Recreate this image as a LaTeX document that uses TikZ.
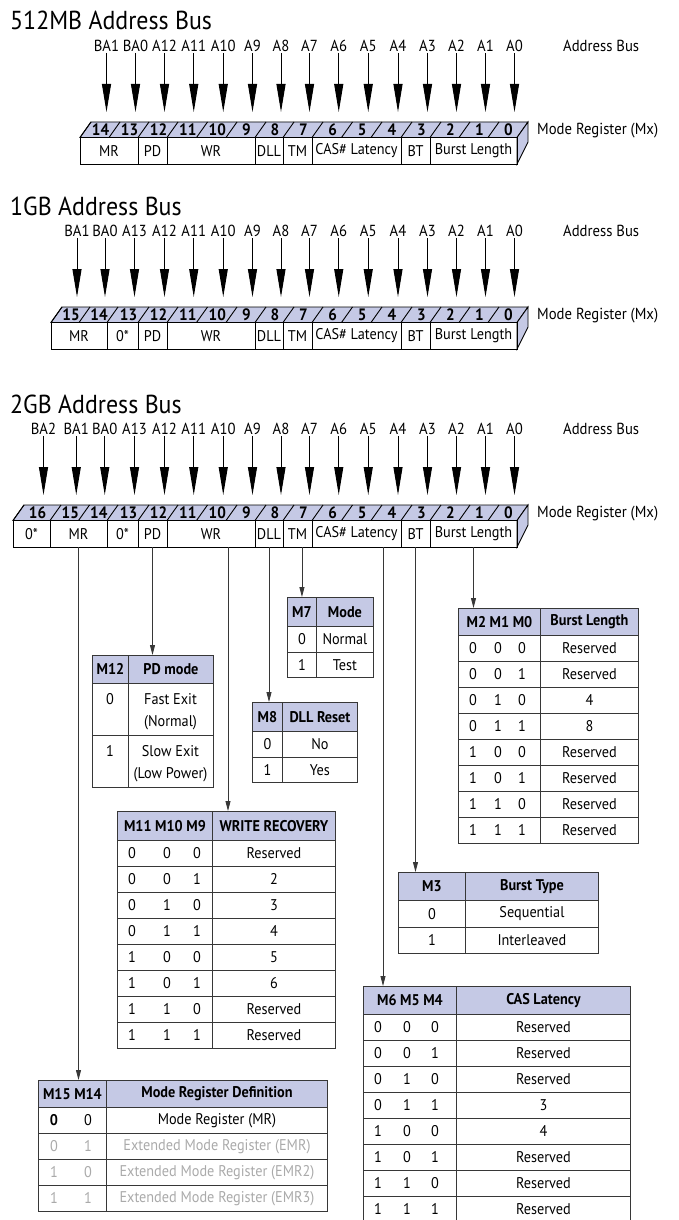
\documentclass[tikz,border=0pt]{standalone}
\usepackage{fontspec}
\setmainfont{PT Sans}[FakeStretch=0.92]
\usetikzlibrary{arrows.meta}
\definecolor{lav}{RGB}{197,201,229}
\definecolor{tl}{RGB}{55,55,55}
\definecolor{gtx}{RGB}{170,170,170}
\newcommand{\fs}[1]{\fontsize{#1}{#1}\selectfont}
\tikzset{
 titletext/.style={anchor=base west, font=\fs{26}, inner sep=0},
 buslbl/.style={font=\fs{16}, inner sep=1pt},
 sidelbl/.style={anchor=west, font=\fs{16}, inner sep=0},
 bitnum/.style={font=\fs{16.5}\bfseries, inner sep=0},
 field/.style={draw=black, line width=0.9pt, minimum height=26.5pt, inner sep=0, font=\fs{15.5}},
 busarrow/.style={line width=1pt, -{Triangle[length=28pt,width=9pt]}},
 conn/.style={line width=0.8pt, draw=tl, -{Triangle[length=10pt,width=5pt]}},
 cellbase/.style={draw=tl, line width=0.9pt, inner sep=0, font=\fs{15.5}},
 hdr/.style={fill=lav, font=\fs{15.5}\bfseries},
 txt/.style={font=\fs{15.5}, inner sep=0},
 gtxt/.style={font=\fs{15.5}, inner sep=0, text=gtx},
}
% band + right face + side labels
\newcommand{\band}[3]{%
 \draw[fill=lav, line width=0.9pt] (#3,#2+137.5) -- (#3+11,#2+122) -- (528,#2+122) -- (517,#2+137.5) -- cycle;
 \draw[fill=lav, line width=0.9pt] (517,#2+137.5) -- (528,#2+122) -- (528,#2+142) -- (517,#2+164) -- cycle;
 \node[sidelbl] (#1-mx) at (537,#2+131) {Mode Register (Mx)};
 \node[sidelbl] (#1-ab) at (563,#2+46) {Address Bus};
}
\newcommand{\bits}[3]{%
 \foreach \xl/\xr/\bn/\bl in {#3}{
  \pgfmathsetmacro\cx{(\xl+\xr)/2}
  \draw[line width=0.9pt] (\xl,#2+137.5) -- (\xl+11,#2+122);
  \node[bitnum] (#1-n\bn) at (\cx+6,#2+130) {\bn};
  \node[buslbl] (#1-a\bn) at (\cx+12,#2+46) {\bl};
  \coordinate (#1-t\bn) at (\cx+12,#2+112);
  \draw[busarrow] (#1-a\bn) -- (#1-t\bn);
 }}
\newcommand{\fld}[5]{%
 \pgfmathsetmacro\fw{#3-#2}\pgfmathsetmacro\fc{(#2+#3)/2}%
 \node[field, minimum width=\fw pt] (#1) at (\fc,#4+150.75) {#5};}
\newcommand{\commonfields}[2]{%
 \fld{#1-pd}{138}{167}{#2}{PD}
 \fld{#1-wr}{167}{255}{#2}{WR}
 \fld{#1-dll}{255}{283}{#2}{DLL}
 \fld{#1-tm}{283}{312}{#2}{TM}
 \fld{#1-cas}{312}{401}{#2}{CAS\# Latency}
 \fld{#1-bt}{401}{430}{#2}{BT}
 \fld{#1-bl}{430}{517}{#2}{Burst Length}}
\newcommand{\tcell}[7]{%
 \pgfmathsetmacro\cw{#4-#2}\pgfmathsetmacro\ch{#5-#3}%
 \node[cellbase,#6,minimum width=\cw pt,minimum height=\ch pt,anchor=north west] (#1) at (#2,#3) {#7};}
% three-bit table body: prefix, x1, xdiv, x2, y0, rowh, rows ; bit x in \bxa \bxb \bxc
\newcommand{\threebit}[7]{%
 \foreach \va/\vb/\vc/\vv [count=\i] in {#7}{
  \pgfmathsetmacro\yt{#5+(\i-1)*#6}
  \pgfmathsetmacro\yb{\yt+#6}
  \pgfmathsetmacro\ym{\yt+#6/2}
  \tcell{#1-\i-a}{#2}{\yt}{#3}{\yb}{}{}
  \tcell{#1-\i-b}{#3}{\yt}{#4}{\yb}{}{\vv}
  \node[txt] (#1-\i-x) at (\bxa,\ym) {\va};
  \node[txt] (#1-\i-y) at (\bxb,\ym) {\vb};
  \node[txt] (#1-\i-z) at (\bxc,\ym) {\vc};
 }}
\begin{document}
\begin{tikzpicture}[x=1pt,y=-1pt]
\useasboundingbox (0,0) rectangle (678,1220);
\clip (0,0) rectangle (678,1220);
\fill[white] (0,0) rectangle (678,1220);

% ===== 512MB =====
\node[titletext] (s1-title) at (10,30) {512MB Address Bus};
\band{s1}{0}{80}
\bits{s1}{0}{80/109/14/BA1,109/138/13/BA0,138/167/12/A12,167/196.5/11/A11,196.5/226/10/A10,226/255/9/A9,255/283/8/A8,283/312/7/A7,312/341.5/6/A6,341.5/371/5/A5,371/401/4/A4,401/430/3/A3,430/459/2/A2,459/488/1/A1,488/517/0/A0}
\fld{s1-mr}{80}{138}{0}{MR}
\commonfields{s1}{0}

% ===== 1GB =====
\node[titletext] (s2-title) at (10,215) {1GB Address Bus};
\band{s2}{185}{51}
\bits{s2}{185}{51/79/15/BA1,79/107/14/BA0,107/138/13/A13,138/167/12/A12,167/196.5/11/A11,196.5/226/10/A10,226/255/9/A9,255/283/8/A8,283/312/7/A7,312/341.5/6/A6,341.5/371/5/A5,371/401/4/A4,401/430/3/A3,430/459/2/A2,459/488/1/A1,488/517/0/A0}
\fld{s2-mr}{51}{107}{185}{MR}
\fld{s2-z}{107}{138}{185}{0*}
\commonfields{s2}{185}

% ===== 2GB =====
\node[titletext] (s3-title) at (10,413) {2GB Address Bus};
\band{s3}{383}{13}
\bits{s3}{383}{13/50/16/BA2,50/78.5/15/BA1,78.5/107/14/BA0,107/138/13/A13,138/167/12/A12,167/196.5/11/A11,196.5/226/10/A10,226/255/9/A9,255/283/8/A8,283/312/7/A7,312/341.5/6/A6,341.5/371/5/A5,371/401/4/A4,401/430/3/A3,430/459/2/A2,459/488/1/A1,488/517/0/A0}
\fld{s3-z1}{13}{50}{383}{0*}
\fld{s3-mr}{50}{107}{383}{MR}
\fld{s3-z2}{107}{138}{383}{0*}
\commonfields{s3}{383}

% ===== M7 =====
\tcell{m7-h1}{287}{597}{316}{626}{hdr}{M7}
\tcell{m7-h2}{316}{597}{373}{626}{hdr}{Mode}
\tcell{m7-1a}{287}{626}{316}{652}{}{0}
\tcell{m7-1b}{316}{626}{373}{652}{}{Normal}
\tcell{m7-2a}{287}{652}{316}{677}{}{1}
\tcell{m7-2b}{316}{652}{373}{677}{}{Test}

% ===== M8 =====
\tcell{m8-h1}{252}{702}{282}{731}{hdr}{M8}
\tcell{m8-h2}{282}{702}{357}{731}{hdr}{DLL Reset}
\tcell{m8-1a}{252}{731}{282}{757}{}{0}
\tcell{m8-1b}{282}{731}{357}{757}{}{No}
\tcell{m8-2a}{252}{757}{282}{782}{}{1}
\tcell{m8-2b}{282}{757}{357}{782}{}{Yes}

% ===== M12 =====
\tcell{m12-h1}{92}{655}{128}{683}{hdr}{M12}
\tcell{m12-h2}{128}{655}{213}{683}{hdr}{PD mode}
\tcell{m12-1a}{92}{683}{128}{735}{}{}
\tcell{m12-1b}{128}{683}{213}{735}{}{}
\tcell{m12-2a}{92}{735}{128}{787}{}{}
\tcell{m12-2b}{128}{735}{213}{787}{}{}
\node[txt] (m12-1x) at (110,699) {0};
\node[txt] (m12-1y) at (170.5,699) {Fast Exit};
\node[txt] (m12-1z) at (170.5,723) {(Normal)};
\node[txt] (m12-2x) at (110,751) {1};
\node[txt] (m12-2y) at (170.5,751) {Slow Exit};
\node[txt] (m12-2z) at (170.5,775) {(Low Power)};

% ===== Burst Length =====
\tcell{bl-h1}{458}{608}{540}{635}{hdr}{M2 M1 M0}
\tcell{bl-h2}{540}{608}{638}{635}{hdr}{Burst Length}
\def\bxa{473}\def\bxb{498}\def\bxc{522}
\threebit{bl}{458}{540}{638}{635}{26}{0/0/0/Reserved,0/0/1/Reserved,0/1/0/4,0/1/1/8,1/0/0/Reserved,1/0/1/Reserved,1/1/0/Reserved,1/1/1/Reserved}

% ===== Burst Type =====
\tcell{bt-h1}{398}{872}{465}{900}{hdr}{M3}
\tcell{bt-h2}{465}{872}{598}{900}{hdr}{Burst Type}
\tcell{bt-1a}{398}{900}{465}{927}{}{0}
\tcell{bt-1b}{465}{900}{598}{927}{}{Sequential}
\tcell{bt-2a}{398}{927}{465}{953}{}{1}
\tcell{bt-2b}{465}{927}{598}{953}{}{Interleaved}

% ===== Write Recovery =====
\tcell{wr-h1}{117}{811}{212}{840}{hdr}{M11 M10 M9}
\tcell{wr-h2}{212}{811}{335}{840}{hdr}{WRITE RECOVERY}
\def\bxa{132}\def\bxb{167}\def\bxc{197}
\threebit{wr}{117}{212}{335}{840}{26}{0/0/0/Reserved,0/0/1/2,0/1/0/3,0/1/1/4,1/0/0/5,1/0/1/6,1/1/0/Reserved,1/1/1/Reserved}

% ===== CAS Latency =====
\tcell{cas-h1}{363}{986}{456}{1014}{hdr}{M6 M5 M4}
\tcell{cas-h2}{456}{986}{630}{1014}{hdr}{CAS Latency}
\def\bxa{378}\def\bxb{407}\def\bxc{435}
\threebit{cas}{363}{456}{630}{1014}{26}{0/0/0/Reserved,0/0/1/Reserved,0/1/0/Reserved,0/1/1/3,1/0/0/4,1/0/1/Reserved,1/1/0/Reserved,1/1/1/Reserved}

% ===== Mode Register Definition =====
\tcell{mr-h1}{38}{1080}{106}{1107}{hdr}{M15 M14}
\tcell{mr-h2}{106}{1080}{327}{1107}{hdr}{Mode Register Definition}
\tcell{mr-1a}{38}{1107}{106}{1133}{}{}
\tcell{mr-1b}{106}{1107}{327}{1133}{}{Mode Register (MR)}
\node[txt,font=\fs{15.5}\bfseries] (mr-1x) at (54,1120) {0};
\node[txt] (mr-1y) at (88,1120) {0};
\tcell{mr-2a}{38}{1133}{106}{1159}{}{}
\tcell{mr-2b}{106}{1133}{327}{1159}{text=gtx}{Extended Mode Register (EMR)}
\node[gtxt] (mr-2x) at (54,1146) {0};
\node[gtxt] (mr-2y) at (88,1146) {1};
\tcell{mr-3a}{38}{1159}{106}{1185}{}{}
\tcell{mr-3b}{106}{1159}{327}{1185}{text=gtx}{Extended Mode Register (EMR2)}
\node[gtxt] (mr-3x) at (54,1172) {1};
\node[gtxt] (mr-3y) at (88,1172) {0};
\tcell{mr-4a}{38}{1185}{106}{1211}{}{}
\tcell{mr-4b}{106}{1185}{327}{1211}{text=gtx}{Extended Mode Register (EMR3)}
\node[gtxt] (mr-4x) at (54,1198) {1};
\node[gtxt] (mr-4y) at (88,1198) {1};

% ===== connectors =====
\coordinate (wrx) at (228,0);
\coordinate (casx) at (383,0);
\draw[conn] (s3-mr.south) -- (s3-mr.south |- mr-h1.north);
\draw[conn] (s3-pd.south) -- (s3-pd.south |- m12-h2.north);
\draw[conn] (wrx |- s3-wr.south) -- (wrx |- wr-h2.north);
\draw[conn] (s3-dll.south) -- (s3-dll.south |- m8-h1.north);
\draw[conn] (m7-h1.north |- s3-tm.south) -- (m7-h1.north);
\draw[conn] (casx |- s3-cas.south) -- (casx |- cas-h1.north);
\draw[conn] (s3-bt.south) -- (s3-bt.south |- bt-h1.north);
\draw[conn] (s3-bl.south) -- (s3-bl.south |- bl-h1.north);
\end{tikzpicture}
\end{document}
